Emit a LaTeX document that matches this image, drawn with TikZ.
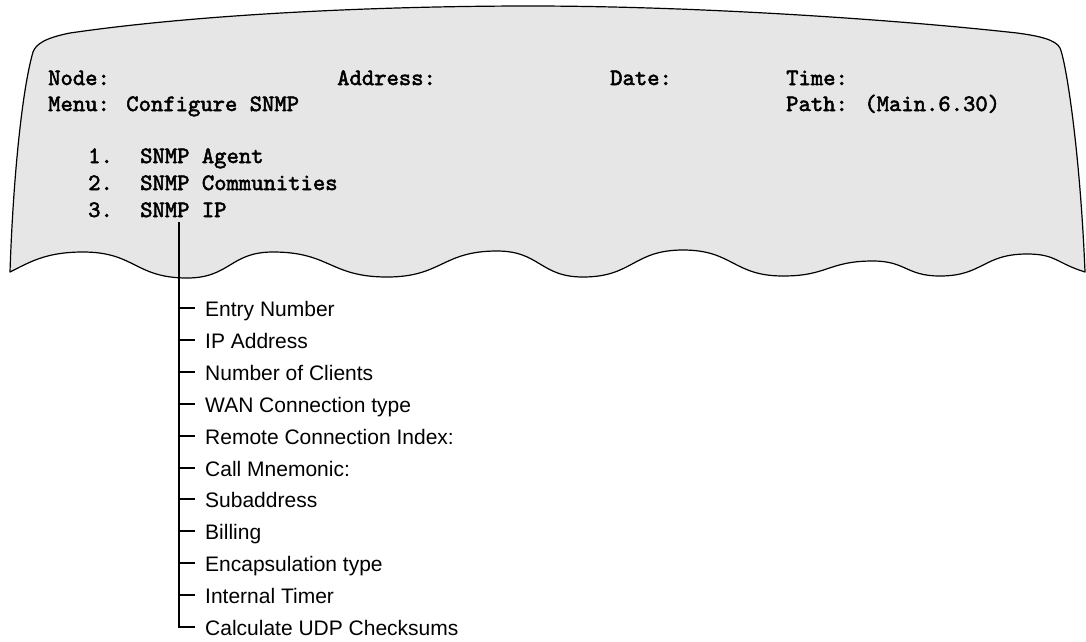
\documentclass[tikz,border=0pt]{standalone}
\usepackage{fontspec}
\newfontfamily\arialf{Liberation Sans}
\newfontfamily\monob{lmmono10-regular.otf}[FakeBold=2.2]
\definecolor{screengray}{RGB}{230,230,230}
\tikzset{
  mono/.style={anchor=base west, inner sep=0pt, font=\fontsize{23.5}{25}\selectfont\monob},
  item/.style={anchor=base west, inner xsep=10pt, inner ysep=0pt, text height=16pt, text depth=0pt,
               font=\fontsize{21}{24}\selectfont\arialf},
  screen/.style={draw=black, line width=1.2pt, fill=screengray, line join=round},
  tree/.style={draw=black, line width=2pt}
}
\begin{document}
\begin{tikzpicture}[x=1pt,y=-1pt]
\useasboundingbox (0,0) rectangle (1086,641);
% screen shape
\path[screen] (10,272)
  .. controls (13,180) and (22,90) .. (33,52)
  .. controls (36,44) and (45,38) .. (70,33)
  .. controls (200,14) and (380,6) .. (530,6)
  .. controls (700,6) and (900,20) .. (1017,33)
  .. controls (1040,36) and (1056,40) .. (1060,48)
  .. controls (1066,62) and (1080,150) .. (1085,272)
  .. controls (1056,263) and (1056,254) .. (1027,254)
  .. controls (983,254) and (983,276) .. (940,276)
  .. controls (906,276) and (906,261) .. (873,261)
  .. controls (828,261) and (828,276) .. (783,276)
  .. controls (733,276) and (733,250) .. (683,250)
  .. controls (633,250) and (633,277) .. (583,277)
  .. controls (540,277) and (540,251) .. (497,251)
  .. controls (442,251) and (442,277) .. (387,277)
  .. controls (330,277) and (330,252) .. (273,252)
  .. controls (230,252) and (230,278) .. (187,278)
  .. controls (135,278) and (135,252) .. (83,252)
  .. controls (46,252) and (30,262) .. (10,272) -- cycle;
% screen text
\node[mono] (node)  at (48,85)  {Node:};
\node[mono] (addr)  at (337,85) {Address:};
\node[mono] (date)  at (610,85) {Date:};
\node[mono] (time)  at (786,85) {Time:};
\node[mono] (menu)  at (48,111) {Menu: Configure SNMP};
\node[mono] (path)  at (786,111) {Path: (Main.6.30)};
\node[mono] (n1)    at (88,163)  {1.};
\node[mono] (s1)    at (140,163) {SNMP Agent};
\node[mono] (n2)    at (88,190)  {2.};
\node[mono] (s2)    at (140,190) {SNMP Communities};
\node[mono] (n3)    at (88,217)  {3.};
\node[mono] (s3)    at (140,217) {SNMP IP};
% tree items
\node[item] (e1)  at (195,316) {Entry Number};
\node[item] (e2)  at (195,348) {IP Address};
\node[item] (e3)  at (195,380) {Number of Clients};
\node[item] (e4)  at (195,412) {WAN Connection type};
\node[item] (e5)  at (195,444) {Remote Connection Index:};
\node[item] (e6)  at (195,476) {Call Mnemonic:};
\node[item] (e7)  at (195,507) {Subaddress};
\node[item] (e8)  at (195,539) {Billing};
\node[item] (e9)  at (195,571) {Encapsulation type};
\node[item] (e10) at (195,603) {Internal Timer};
\node[item] (e11) at (195,635) {Calculate UDP Checksums};
\coordinate (trunk) at (179,222);
\draw[tree] (trunk) |- (e11.west);
\foreach \i in {1,...,10} {
  \draw[tree] (trunk |- e\i.west) -- (e\i.west);
}
\end{tikzpicture}
\end{document}
